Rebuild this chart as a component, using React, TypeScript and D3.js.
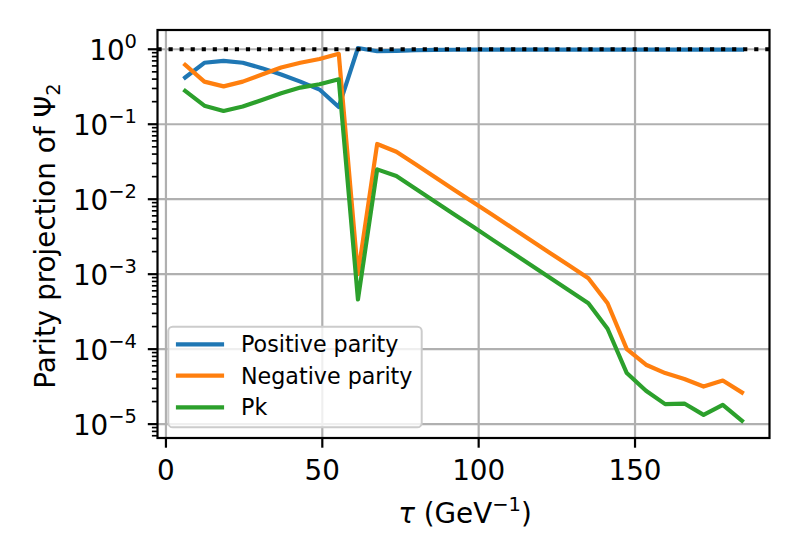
import React from 'react';
import * as d3 from 'd3';

// tau values (GeV^-1) of the 30 time slices
const tau = [
  6.14, 12.28, 18.42, 24.56, 30.7, 36.84, 42.98, 49.12, 55.26, 61.4,
  67.54, 73.68, 79.82, 85.96, 92.1, 98.24, 104.38, 110.52, 116.66, 122.8,
  128.94, 135.08, 141.22, 147.36, 153.5, 159.64, 165.78, 171.92, 178.06, 184.2,
];

const positiveParity = [
  0.42, 0.66, 0.7, 0.66, 0.56, 0.46, 0.37, 0.29, 0.17, 1.04,
  0.94, 0.95, 0.97, 0.98, 0.985, 0.99, 0.99, 0.99, 0.99, 0.99,
  0.99, 0.99, 0.99, 0.99, 0.99, 0.99, 0.99, 0.99, 0.99, 0.99,
];

const negativeParity = [
  0.62, 0.37, 0.32, 0.37, 0.46, 0.57, 0.66, 0.74, 0.87, 1.0e-3,
  0.0546, 0.043, 0.0292, 0.0198, 0.0134, 0.0091, 0.0062, 0.0042, 0.00284, 0.00192,
  0.00131, 8.85e-4, 4.1e-4, 1.0e-4, 6.2e-5, 4.8e-5, 4.0e-5, 3.17e-5, 3.81e-5, 2.64e-5,
];

const pk = [
  0.278, 0.177, 0.15, 0.172, 0.211, 0.259, 0.308, 0.341, 0.398, 4.6e-4,
  0.025, 0.0204, 0.0138, 0.00935, 0.00632, 0.00428, 0.00289, 0.00196, 0.00133, 8.96e-4,
  6.06e-4, 4.1e-4, 1.87e-4, 4.8e-5, 2.78e-5, 1.85e-5, 1.88e-5, 1.33e-5, 1.81e-5, 1.11e-5,
];

const seriesNames = ['Positive parity', 'Negative parity', 'Pk'];
const seriesColors = ['#1f77b4', '#ff7f0e', '#2ca02c'];

const xTicks = [0, 50, 100, 150];
const yExponents = [0, -1, -2, -3, -4, -5];

const W = 800;
const H = 560;
const plot = { left: 157.5, right: 769.5, top: 30, bottom: 438 };
const FONT = 'DejaVu Sans, sans-serif';

export default function App() {
  const x = d3.scaleLinear().domain([-2.7, 193.0]).range([plot.left, plot.right]);
  const y = d3
    .scaleLog()
    .domain([Math.pow(10, -5.185), Math.pow(10, 0.257)])
    .range([plot.bottom, plot.top]);

  const line = d3
    .line<[number, number]>()
    .x(d => x(d[0]))
    .y(d => y(d[1]));

  const allSeries = [positiveParity, negativeParity, pk].map(vals =>
    vals.map((v, i) => [tau[i], v] as [number, number])
  );

  // minor ticks 2..9 x 10^k inside the domain
  const minor: number[] = [];
  for (let k = -6; k <= 0; k++) {
    for (let m = 2; m <= 9; m++) {
      const v = m * Math.pow(10, k);
      const py = y(v);
      if (py <= plot.bottom && py >= plot.top) minor.push(v);
    }
  }

  const legendX = 168.3;
  const legendY = 326.7;
  const legendRows = [344.3, 375.7, 407.3];

  return (
    <svg
      width={W}
      height={H}
      style={{ position: 'absolute', left: 0, top: 0, background: '#fff' }}
      fontFamily={FONT}
    >
      <rect x={0} y={0} width={W} height={H} fill="#fff" />

      {/* grid */}
      {xTicks.map(t => (
        <line key={'gx' + t} x1={x(t)} x2={x(t)} y1={plot.top} y2={plot.bottom} stroke="#b0b0b0" strokeWidth={2.2} />
      ))}
      {yExponents.map(e => (
        <line key={'gy' + e} x1={plot.left} x2={plot.right} y1={y(Math.pow(10, e))} y2={y(Math.pow(10, e))} stroke="#b0b0b0" strokeWidth={2.2} />
      ))}

      {/* series */}
      <defs>
        <clipPath id="plotclip">
          <rect x={plot.left} y={plot.top} width={plot.right - plot.left} height={plot.bottom - plot.top} />
        </clipPath>
      </defs>
      <g clipPath="url(#plotclip)">
        {allSeries.map((s, i) => (
          <path key={i} d={line(s) || ''} fill="none" stroke={seriesColors[i]} strokeWidth={4.17} strokeLinejoin="round" strokeLinecap="square" />
        ))}
        <line x1={plot.left} x2={plot.right} y1={y(1)} y2={y(1)} stroke="#000" strokeWidth={4.17} strokeDasharray="4.17 6.88" />
      </g>

      {/* ticks */}
      {xTicks.map(t => (
        <g key={'tx' + t}>
          <line x1={x(t)} x2={x(t)} y1={plot.bottom} y2={plot.bottom + 9.7} stroke="#000" strokeWidth={2.2} />
          <text x={x(t)} y={480} fontSize={27.8} textAnchor="middle" fill="#000">{t}</text>
        </g>
      ))}
      {minor.map((v, i) => (
        <line key={'mn' + i} x1={plot.left - 5.6} x2={plot.left} y1={y(v)} y2={y(v)} stroke="#000" strokeWidth={1.67} />
      ))}
      {yExponents.map(e => (
        <g key={'ty' + e}>
          <line x1={plot.left - 9.7} x2={plot.left} y1={y(Math.pow(10, e))} y2={y(Math.pow(10, e))} stroke="#000" strokeWidth={2.2} />
          <text x={137} y={y(Math.pow(10, e)) + 10.7} textAnchor="end" fill="#000" fontSize={27.8}>
            <tspan>10</tspan>
            <tspan dy={-11.7} fontSize={19.5}>{e === 0 ? '0' : '\u2212' + Math.abs(e)}</tspan>
          </text>
        </g>
      ))}

      {/* frame */}
      <rect x={plot.left} y={plot.top} width={plot.right - plot.left} height={plot.bottom - plot.top} fill="none" stroke="#000" strokeWidth={2.2} />

      {/* axis labels */}
      <text x={465} y={523} textAnchor="middle" fontSize={27.8} fill="#000">
        <tspan fontStyle="italic">τ</tspan>
        <tspan> (GeV</tspan>
        <tspan dy={-11.7} fontSize={19.5}>−1</tspan>
        <tspan dy={11.7}>)</tspan>
      </text>
      <text transform={`translate(55,236) rotate(-90)`} textAnchor="middle" fontSize={27.8} fill="#000">
        <tspan>Parity projection of Ψ</tspan>
        <tspan dy={5} fontSize={19.5}>2</tspan>
      </text>

      {/* legend */}
      <rect x={legendX} y={legendY} width={253.4} height={100.6} rx={4.4} ry={4.4} fill="#fff" fillOpacity={0.8} stroke="#cccccc" strokeWidth={2} />
      {seriesNames.map((name, i) => (
        <g key={name}>
          <line x1={178} x2={222} y1={legendRows[i]} y2={legendRows[i]} stroke={seriesColors[i]} strokeWidth={4.17} strokeLinecap="square" />
          <text x={241} y={legendRows[i] + 8} fontSize={22.2} fill="#000">{name}</text>
        </g>
      ))}
    </svg>
  );
}
